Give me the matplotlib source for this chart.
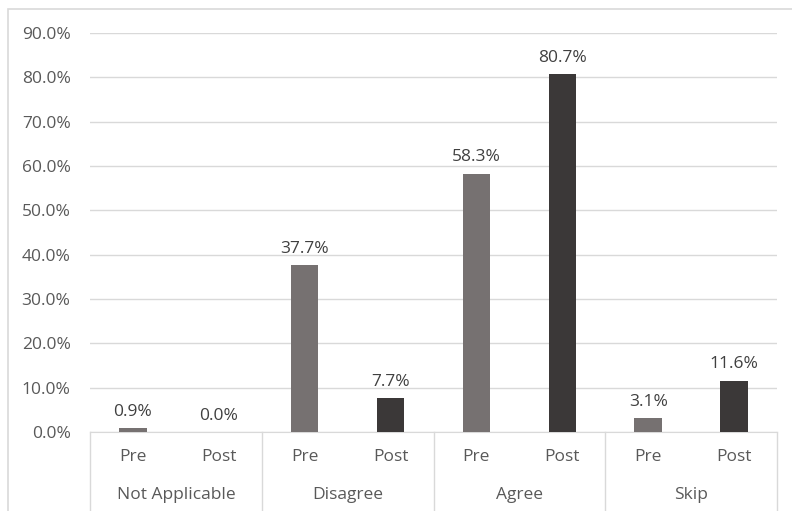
"""Pre/Post survey response bar chart"""

import matplotlib.pyplot as plt
from matplotlib.patches import Rectangle
import numpy as np

groups = ["Not Applicable", "Disagree", "Agree", "Skip"]
sub_labels = ["Pre", "Post"]
pre_values = [0.9, 37.7, 58.3, 3.1]
post_values = [0.0, 7.7, 80.7, 11.6]
y_ticks = [0, 10, 20, 30, 40, 50, 60, 70, 80, 90]

PRE_COLOR = "#767171"
POST_COLOR = "#3b3838"
TEXT_COLOR = "#595959"
GRID_COLOR = "#d9d9d9"
FS = 12.5

plt.rcParams['font.family'] = ['Open Sans', 'DejaVu Sans']

fig = plt.figure(figsize=(7.92, 5.11), dpi=100)
ax = fig.add_axes([90 / 792, 1 - 432 / 511, (777 - 90) / 792, (432 - 33) / 511])

# outer chart border (only the left and top edges are visible)
fig.patches.append(Rectangle((8 / 792, -0.1), 1.2, (511 - 9) / 511 + 0.1,
                             transform=fig.transFigure, fill=False,
                             edgecolor=GRID_COLOR, linewidth=1.2))

n = len(groups)
x_pre = np.arange(n) * 2 + 0.5
x_post = np.arange(n) * 2 + 1.5
width = 0.32

ax.bar(x_pre, pre_values, width, color=PRE_COLOR, zorder=3)
ax.bar(x_post, post_values, width, color=POST_COLOR, zorder=3)

for xs, vals in ((x_pre, pre_values), (x_post, post_values)):
    for x, v in zip(xs, vals):
        ax.annotate(f"{v:.1f}%", (x, v), xytext=(0, 6), textcoords="offset points",
                    ha="center", va="bottom", fontsize=FS, color="#404040")

ax.set_xlim(0, 2 * n)
ax.set_ylim(0, 90)
ax.set_yticks(y_ticks)
ax.set_yticklabels([f"{t:.1f}%" for t in y_ticks], fontsize=FS, color=TEXT_COLOR)
ax.tick_params(axis="y", length=0, pad=14)
ax.set_xticks([])
ax.grid(axis="y", color=GRID_COLOR, linewidth=1, zorder=0)
for side in ("top", "right", "left"):
    ax.spines[side].set_visible(False)
ax.spines["bottom"].set_color(GRID_COLOR)

# two-level category axis
trans = ax.get_xaxis_transform()
for i in range(n + 1):
    ax.plot([2 * i, 2 * i], [0, -0.2], transform=trans, color=GRID_COLOR,
            linewidth=1, clip_on=False)
for i, g in enumerate(groups):
    ax.text(2 * i + 1, -0.158, g, transform=trans, ha="center", va="center",
            fontsize=FS, color=TEXT_COLOR)
    ax.text(x_pre[i], -0.063, sub_labels[0], transform=trans, ha="center",
            va="center", fontsize=FS, color=TEXT_COLOR)
    ax.text(x_post[i], -0.063, sub_labels[1], transform=trans, ha="center",
            va="center", fontsize=FS, color=TEXT_COLOR)

fig.savefig("out.png", dpi=100)
